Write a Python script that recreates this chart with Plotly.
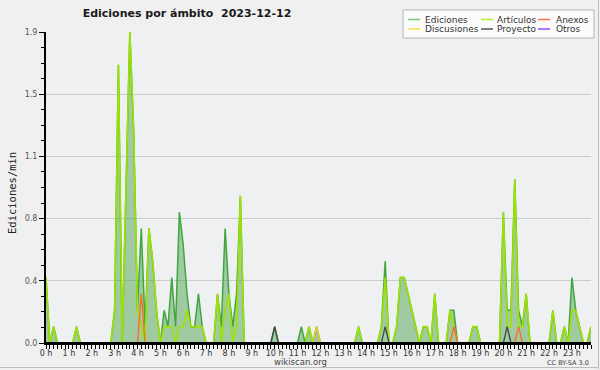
import plotly.graph_objects as go

# ---- data: 10-minute bins from 0:00 to 23:50, values in ediciones/min ----
bin_minutes = list(range(0, 24 * 60, 10))
x_hours = [m / 60 for m in bin_minutes]

hour_ticks = list(range(24))
hour_labels = [f"{h} h" for h in hour_ticks]

y_tickvals = [0, 0.38, 0.76, 1.14, 1.52, 1.9]
y_ticktext = ["0.0", "0.4", "0.8", "1.1", "1.5", "1.9"]

ediciones = [
    0.4, 0, 0.1, 0, 0, 0,          # 0 h
    0, 0, 0.1, 0, 0, 0,            # 1 h
    0, 0, 0, 0, 0, 0,              # 2 h
    0.2, 1.7, 0, 0.9, 1.9, 1.3,    # 3 h
    0.2, 0.7, 0.1, 0.7, 0.5, 0.2,  # 4 h
    0, 0.2, 0.1, 0.4, 0.1, 0.8,    # 5 h
    0.6, 0.3, 0.1, 0.1, 0.3, 0.1,  # 6 h
    0, 0, 0, 0.3, 0.1, 0.7,        # 7 h
    0.3, 0.1, 0.3, 0.9, 0, 0,      # 8 h
    0, 0, 0, 0, 0, 0,              # 9 h
    0.1, 0, 0, 0, 0, 0,            # 10 h
    0, 0.1, 0, 0.1, 0, 0.1,        # 11 h
    0, 0, 0, 0, 0, 0,              # 12 h
    0, 0, 0, 0, 0.1, 0,            # 13 h
    0, 0, 0, 0, 0.1, 0.5,          # 14 h
    0, 0, 0.1, 0.4, 0.4, 0.3,      # 15 h
    0.2, 0.1, 0, 0.1, 0.1, 0,      # 16 h
    0.3, 0, 0, 0, 0.2, 0.2,        # 17 h
    0, 0, 0, 0, 0.1, 0.1,          # 18 h
    0, 0, 0, 0, 0, 0,              # 19 h
    0.8, 0.2, 0.2, 1.0, 0.2, 0.1,  # 20 h
    0.3, 0, 0, 0, 0, 0,            # 21 h
    0, 0.2, 0, 0, 0.1, 0,          # 22 h
    0.4, 0.2, 0.1, 0, 0, 0.1,      # 23 h
]

articulos = [
    0.4, 0, 0.1, 0, 0, 0,          # 0 h
    0, 0, 0.1, 0, 0, 0,            # 1 h
    0, 0, 0, 0, 0, 0,              # 2 h
    0.2, 1.7, 0, 0.9, 1.9, 1.3,    # 3 h
    0.2, 0.1, 0, 0.7, 0.5, 0.2,    # 4 h
    0, 0.1, 0.1, 0.1, 0, 0.1,      # 5 h
    0.1, 0.2, 0.1, 0.1, 0.1, 0.1,  # 6 h
    0, 0, 0, 0.3, 0, 0.2,          # 7 h
    0.3, 0, 0.1, 0.9, 0, 0,        # 8 h
    0, 0, 0, 0, 0, 0,              # 9 h
    0, 0, 0, 0, 0, 0,              # 10 h
    0, 0, 0, 0.1, 0, 0,            # 11 h
    0, 0, 0, 0, 0, 0,              # 12 h
    0, 0, 0, 0, 0.1, 0,            # 13 h
    0, 0, 0, 0, 0.1, 0.4,          # 14 h
    0, 0, 0.1, 0.4, 0.4, 0.3,      # 15 h
    0.2, 0.1, 0, 0.1, 0.1, 0,      # 16 h
    0.3, 0, 0, 0, 0.2, 0.1,        # 17 h
    0, 0, 0, 0, 0.1, 0.1,          # 18 h
    0, 0, 0, 0, 0, 0,              # 19 h
    0.8, 0.1, 0.1, 1.0, 0.1, 0.1,  # 20 h
    0.3, 0, 0, 0, 0, 0,            # 21 h
    0, 0.2, 0, 0, 0.1, 0,          # 22 h
    0.2, 0.2, 0.1, 0, 0, 0.1,      # 23 h
]

anexos = [
    0, 0, 0, 0, 0, 0,  0, 0, 0, 0, 0, 0,        # 0-1 h
    0, 0, 0, 0, 0, 0,  0, 0, 0, 0, 0, 0,        # 2-3 h
    0, 0.3, 0, 0, 0, 0,  0, 0, 0, 0, 0, 0,      # 4-5 h
    0, 0, 0, 0, 0, 0,  0, 0, 0, 0, 0, 0,        # 6-7 h
    0, 0, 0, 0, 0, 0,  0, 0, 0, 0, 0, 0,        # 8-9 h
    0, 0, 0, 0, 0, 0,  0, 0, 0, 0, 0, 0,        # 10-11 h
    0, 0, 0, 0, 0, 0,  0, 0, 0, 0, 0, 0,        # 12-13 h
    0, 0, 0, 0, 0, 0,  0, 0, 0, 0, 0, 0,        # 14-15 h
    0, 0, 0, 0, 0, 0,  0, 0, 0, 0, 0, 0.1,      # 16-17 h
    0, 0, 0, 0, 0, 0,  0, 0, 0, 0, 0, 0,        # 18-19 h
    0, 0, 0, 0, 0.1, 0,  0, 0, 0, 0, 0, 0,      # 20-21 h
    0, 0, 0, 0, 0, 0,  0, 0, 0, 0, 0, 0,        # 22-23 h
]

discusiones = [
    0, 0, 0, 0, 0, 0,  0, 0, 0, 0, 0, 0,        # 0-1 h
    0, 0, 0, 0, 0, 0,  0, 0, 0, 0, 0, 0,        # 2-3 h
    0, 0, 0, 0, 0, 0,  0, 0, 0, 0, 0, 0,        # 4-5 h
    0, 0, 0, 0, 0, 0,  0, 0, 0, 0, 0, 0,        # 6-7 h
    0, 0, 0, 0, 0, 0,  0, 0, 0, 0, 0, 0,        # 8-9 h
    0, 0, 0, 0, 0, 0,  0, 0, 0, 0, 0, 0.1,      # 10-11 h
    0, 0, 0, 0, 0, 0,  0, 0, 0, 0, 0, 0,        # 12-13 h
    0, 0, 0, 0, 0, 0,  0, 0, 0, 0, 0, 0,        # 14-15 h
    0, 0, 0, 0, 0, 0,  0, 0, 0, 0, 0, 0,        # 16-17 h
    0, 0, 0, 0, 0, 0,  0, 0, 0, 0, 0, 0,        # 18-19 h
    0, 0, 0, 0, 0, 0,  0, 0, 0, 0, 0, 0,        # 20-21 h
    0, 0, 0, 0, 0, 0,  0, 0, 0, 0, 0, 0,        # 22-23 h
]

proyecto = [
    0, 0, 0, 0, 0, 0,  0, 0, 0, 0, 0, 0,        # 0-1 h
    0, 0, 0, 0, 0, 0,  0, 0, 0, 0, 0, 0,        # 2-3 h
    0, 0, 0, 0, 0, 0,  0, 0, 0, 0, 0, 0,        # 4-5 h
    0, 0, 0, 0, 0, 0,  0, 0, 0, 0, 0, 0,        # 6-7 h
    0, 0, 0, 0, 0, 0,  0, 0, 0, 0, 0, 0,        # 8-9 h
    0.1, 0, 0, 0, 0, 0,  0, 0, 0, 0, 0, 0,      # 10-11 h
    0, 0, 0, 0, 0, 0,  0, 0, 0, 0, 0, 0,        # 12-13 h
    0, 0, 0, 0, 0, 0.1,  0, 0, 0, 0, 0, 0,      # 14-15 h
    0, 0, 0, 0, 0, 0,  0, 0, 0, 0, 0, 0,        # 16-17 h
    0, 0, 0, 0, 0, 0,  0, 0, 0, 0, 0, 0,        # 18-19 h
    0, 0.1, 0, 0, 0, 0,  0, 0, 0, 0, 0, 0,      # 20-21 h
    0, 0, 0, 0, 0, 0,  0, 0, 0, 0, 0, 0,        # 22-23 h
]

otros = [
    0, 0, 0, 0, 0, 0,  0, 0, 0, 0, 0, 0,        # 0-1 h
    0, 0, 0, 0, 0, 0,  0, 0, 0, 0, 0, 0,        # 2-3 h
    0, 0, 0, 0, 0, 0,  0, 0, 0, 0, 0, 0,        # 4-5 h
    0, 0, 0, 0, 0, 0,  0, 0, 0, 0, 0, 0,        # 6-7 h
    0, 0, 0, 0, 0, 0,  0, 0, 0, 0, 0, 0,        # 8-9 h
    0, 0, 0, 0, 0, 0,  0, 0, 0, 0, 0, 0,        # 10-11 h
    0, 0, 0, 0, 0, 0,  0, 0, 0, 0, 0, 0,        # 12-13 h
    0, 0, 0, 0, 0, 0,  0, 0, 0, 0, 0, 0,        # 14-15 h
    0, 0, 0, 0, 0, 0,  0, 0, 0, 0, 0, 0,        # 16-17 h
    0, 0, 0, 0, 0, 0,  0, 0, 0, 0, 0, 0,        # 18-19 h
    0, 0, 0, 0, 0, 0,  0, 0, 0, 0, 0, 0,        # 20-21 h
    0, 0, 0, 0, 0, 0,  0, 0, 0, 0, 0, 0,        # 22-23 h
]

series_names = ["Ediciones", "Artículos", "Anexos", "Discusiones", "Proyecto", "Otros"]
series_values = [ediciones, articulos, anexos, discusiones, proyecto, otros]
line_colors = ["#40a640", "#9de200", "#ff6a22", "#ffcc22", "#444444", "#9944ff"]
legend_colors = ["#77cc77", "#bbee33", "#ff7744", "#ffdd44", "#555555", "#9944ff"]

# ---- layout geometry (pixels) ----
W, H = 600, 370
L, R, T, B = 46, 9, 32, 27
PW, PH = W - L - R, H - T - B


def px(xp):
    return (xp - L) / PW


def py(yp):
    return (H - B - yp) / PH


FONT = "DejaVu Sans"

fig = go.Figure()

# Ediciones with filled area
fig.add_trace(go.Scatter(
    x=x_hours, y=ediciones, mode="lines", name="Ediciones",
    line=dict(color=line_colors[0], width=1.5),
    fill="tozeroy", fillcolor="rgba(50,150,50,0.42)",
    showlegend=False, hoverinfo="skip",
))
for name, vals, col in zip(series_names[1:], series_values[1:], line_colors[1:]):
    fig.add_trace(go.Scatter(
        x=x_hours, y=vals, mode="lines", name=name,
        line=dict(color=col, width=1.6 if name == "Artículos" else 1.3),
        showlegend=False, hoverinfo="skip",
    ))

shapes = []
annotations = []

# baseline drawn over the zero-valued line segments (as the axis does in the original)
shapes.append(dict(type="line", xref="paper", yref="y", x0=0, x1=1, y0=0, y1=0,
                   line=dict(color="#000000", width=2), layer="above"))

# legend box (drawn manually to match the compact original legend)
shapes.append(dict(type="rect", xref="paper", yref="paper",
                   x0=px(403), x1=px(594), y0=py(38), y1=py(10),
                   fillcolor="#fbfbfb", line=dict(color="#b4b4b4", width=1), layer="above"))
col_line_x = [(408, 420), (481, 493), (538, 550)]
col_text_x = [423, 495, 554]
row_y = [19.5, 29]
for k, (name, col) in enumerate(zip(series_names, legend_colors)):
    r, c = divmod(k, 3)
    x0, x1 = col_line_x[c]
    shapes.append(dict(type="line", xref="paper", yref="paper",
                       x0=px(x0), x1=px(x1), y0=py(row_y[r]), y1=py(row_y[r]),
                       line=dict(color=col, width=1.5), layer="above"))
    annotations.append(dict(text=name, xref="paper", yref="paper",
                            x=px(col_text_x[c]), y=py(row_y[r]),
                            xanchor="left", yanchor="middle", showarrow=False,
                            font=dict(family=FONT, size=9, color="#333333")))

# y-axis title
annotations.append(dict(text="Ediciones/min", xref="paper", yref="paper",
                        x=px(12), y=py(193), textangle=-90, showarrow=False,
                        xanchor="center", yanchor="middle",
                        font=dict(family="DejaVu Sans Mono", size=10.5, color="#222222")))
# footer texts
annotations.append(dict(text="wikiscan.org", xref="paper", yref="paper",
                        x=px(300), y=py(362), showarrow=False,
                        xanchor="center", yanchor="middle",
                        font=dict(family=FONT, size=8.5, color="#444444")))
annotations.append(dict(text="CC BY-SA 3.0", xref="paper", yref="paper",
                        x=px(591), y=py(362.5), showarrow=False,
                        xanchor="right", yanchor="middle",
                        font=dict(family=FONT, size=6.5, color="#444444")))

# outer frame (right / bottom edge)
shapes.append(dict(type="line", xref="paper", yref="paper",
                   x0=px(598.5), x1=px(598.5), y0=py(369), y1=py(0),
                   line=dict(color="#bdbdbd", width=1)))
shapes.append(dict(type="line", xref="paper", yref="paper",
                   x0=px(0), x1=px(599), y0=py(367.5), y1=py(367.5),
                   line=dict(color="#bdbdbd", width=1)))

fig.update_layout(
    width=W, height=H,
    margin=dict(l=L, r=R, t=T, b=B, pad=0),
    paper_bgcolor="#f0f0f0",
    plot_bgcolor="#eff0f2",
    font=dict(family=FONT, size=9, color="#444444"),
    title=dict(text="Ediciones por ámbito\u00a0\u00a02023-12-12",
               x=187 / W, xref="container", xanchor="center",
               y=1 - 13 / H, yref="container", yanchor="middle",
               font=dict(family=FONT, size=11, color="#1a1a1a", weight="bold")),
    shapes=shapes,
    annotations=annotations,
    showlegend=False,
    xaxis=dict(
        range=[0, x_hours[-1]],
        tickmode="array", tickvals=hour_ticks, ticktext=hour_labels,
        ticks="outside", ticklen=4, tickwidth=1, tickcolor="#000000",
        ticklabelstandoff=-3,
        tickfont=dict(family=FONT, size=8, color="#333333"),
        showgrid=False, zeroline=False,
        showline=True, linecolor="#000000", linewidth=2,
        minor=dict(dtick=1 / 6, tick0=0, ticks="outside", ticklen=4,
                   tickwidth=1, tickcolor="#000000", showgrid=False),
        fixedrange=True,
    ),
    yaxis=dict(
        range=[0, 1.9],
        tickmode="array", tickvals=y_tickvals, ticktext=y_ticktext,
        ticks="outside", ticklen=5, tickwidth=1, tickcolor="#000000",
        tickfont=dict(family=FONT, size=8, color="#555555"),
        showgrid=True, gridcolor="#cbcbcb", gridwidth=1,
        zeroline=False,
        showline=True, linecolor="#000000", linewidth=2,
        minor=dict(dtick=0.095, tick0=0, ticks="outside", ticklen=3,
                   tickwidth=1, tickcolor="#000000", showgrid=False),
        fixedrange=True,
    ),
)

fig.write_html(
    "out.html",
    config={"displayModeBar": False, "staticPlot": True},
    post_script="document.body.style.margin='0';document.body.style.padding='0';"
                "document.body.style.overflow='hidden';",
)
